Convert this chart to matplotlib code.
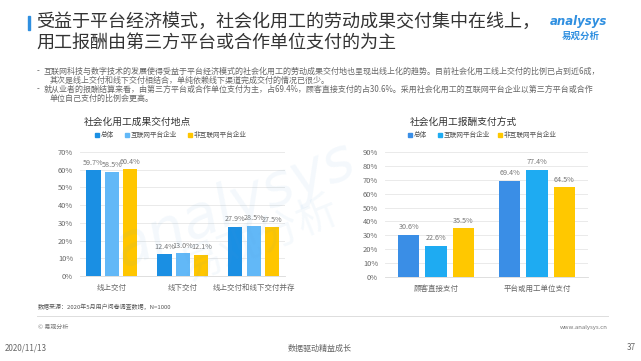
import matplotlib.pyplot as plt
import numpy as np
from matplotlib.patches import Rectangle

plt.rcParams['font.family'] = ['Noto Sans CJK SC', 'DejaVu Sans']

# 数据
series = ["总体", "互联网平台企业", "非互联网平台企业"]

cats_left = ["线上交付", "线下交付", "线上交付和线下交付并存"]
total_left = [59.7, 12.4, 27.9]
internet_left = [58.5, 13.0, 28.5]
non_internet_left = [60.4, 12.1, 27.5]
ticks_left = [0, 10, 20, 30, 40, 50, 60, 70]

cats_right = ["顾客直接支付", "平台或用工单位支付"]
total_right = [30.6, 69.4]
internet_right = [22.6, 77.4]
non_internet_right = [35.5, 64.5]
ticks_right = [0, 10, 20, 30, 40, 50, 60, 70, 80, 90]

colors_left = ["#1a8fe3", "#62b8f7", "#ffc600"]
colors_right = ["#3a8ee6", "#1eabf2", "#ffc800"]

W, H = 641, 361
fig = plt.figure(figsize=(W / 100, H / 100), dpi=100)


def fx(px):
    return px / W


def fy(py):
    return 1 - py / H


# 标题
fig.patches.append(Rectangle((fx(28), fy(30)), fx(2.5), 14 / H, transform=fig.transFigure,
                             color="#2f8fe0"))
fig.text(fx(36), fy(22), "受益于平台经济模式，社会化用工的劳动成果交付集中在线上，",
         fontsize=13, color="#333333", va="center", ha="left")
fig.text(fx(36), fy(44), "用工报酬由第三方平台或合作单位支付的为主",
         fontsize=13, color="#333333", va="center", ha="left")

# logo
fig.text(fx(578), fy(21), "analysys", fontsize=8.5, color="#2f8fe0", style="italic",
         fontweight="bold", ha="center", va="center", family="DejaVu Sans")
fig.text(fx(581), fy(36), "易观分析", fontsize=6.8, color="#2f8fe0", fontweight="bold",
         ha="center", va="center")

# 说明文字
bullets = [
    (37, 71, "-"),
    (44, 71, "互联网科技与数字技术的发展使得受益于平台经济模式的社会化用工的劳动成果交付地也呈现出线上化的趋势。目前社会化用工线上交付的比例已占到近6成，"),
    (50, 80, "其次是线上交付和线下交付相结合，单纯依赖线下渠道完成交付的情况已很少。"),
    (37, 89, "-"),
    (44, 89, "就从业者的报酬结算来看，由第三方平台或合作单位支付为主，占69.4%，顾客直接支付的占30.6%。采用社会化用工的互联网平台企业以第三方平台或合作"),
    (50, 98, "单位自己支付的比例会更高。"),
]
for x, y, t in bullets:
    fig.text(fx(x), fy(y), t, fontsize=5.75, color="#666666", va="center", ha="left")


def draw_chart(ax, cats, vals, colors, ticks, width, step, xlim, ylim):
    x = np.arange(len(cats))
    for i, v in enumerate(vals):
        pos = x + (i - 1) * step
        ax.bar(pos, v, width=width, color=colors[i], zorder=2)
        for p, val in zip(pos, v):
            ax.text(p, val + ylim * 0.025, f"{val}%", ha="center", va="bottom",
                    fontsize=5.2, color="#777777")
    ax.set_xlim(*xlim)
    ax.set_ylim(0, ylim)
    ax.set_yticks(ticks)
    ax.set_yticklabels([f"{t}%" for t in ticks])
    ax.set_xticks(x)
    ax.set_xticklabels(cats)
    ax.tick_params(axis="both", length=0, labelsize=5.4, colors="#666666")
    ax.tick_params(axis="y", pad=5)
    ax.tick_params(axis="x", pad=6)
    ax.grid(axis="y", color="#e6e6e6", linewidth=0.6, zorder=0)
    for s in ["top", "right", "left"]:
        ax.spines[s].set_visible(False)
    ax.spines["bottom"].set_color("#d9d9d9")
    ax.spines["bottom"].set_linewidth(0.6)


# 左图
ax1 = fig.add_axes([fx(80), fy(276), fx(285) - fx(80), 124 / H])
draw_chart(ax1, cats_left, [total_left, internet_left, non_internet_left], colors_left,
           ticks_left, 0.2, 0.26, (-0.45, 2.44), 70)
fig.text(fx(137), fy(122), "社会化用工成果交付地点", fontsize=7, color="#333333",
         ha="center", va="center")
for mx, name, c in zip([97, 127, 190], series, colors_left):
    fig.patches.append(Rectangle((fx(mx - 2), fy(137)), fx(4), 4 / H,
                                 transform=fig.transFigure, color=c))
    fig.text(fx(mx + 4), fy(135), name, fontsize=4.8, color="#555555", ha="left", va="center")

# 右图
ax2 = fig.add_axes([fx(385), fy(277), fx(588) - fx(385), 125 / H])
draw_chart(ax2, cats_right, [total_right, internet_right, non_internet_right], colors_right,
           ticks_right, 0.21, 0.27, (-0.505, 1.505), 90)
fig.text(fx(463), fy(122), "社会化用工报酬支付方式", fontsize=7, color="#333333",
         ha="center", va="center")
for mx, name, c in zip([410, 440, 500], series, colors_right):
    fig.patches.append(Rectangle((fx(mx - 2), fy(137)), fx(4), 4 / H,
                                 transform=fig.transFigure, color=c))
    fig.text(fx(mx + 4), fy(135), name, fontsize=4.8, color="#555555", ha="left", va="center")

# 水印
fig.text(fx(235), fy(205), "analysys", fontsize=42, color="#5aa0d8", alpha=0.07,
         rotation=22, ha="center", va="center", style="italic", family="DejaVu Sans")
fig.text(fx(260), fy(240), "易观分析", fontsize=30, color="#5aa0d8", alpha=0.06,
         rotation=22, ha="center", va="center")

# 页脚
fig.text(fx(38), fy(307), "数据来源：2020年5月用户问卷调查数据，N=1000", fontsize=4.3,
         color="#555555", ha="left", va="center")
fig.add_artist(plt.Line2D([fx(37), fx(608)], [fy(316), fy(316)], color="#dddddd",
                          linewidth=0.7, transform=fig.transFigure))
fig.text(fx(38), fy(327), "© 易观分析", fontsize=4.3, color="#777777", ha="left", va="center")
fig.text(fx(608), fy(327), "www.analysys.cn", fontsize=4.3, color="#777777", ha="right",
         va="center")
fig.text(fx(5), fy(348), "2020/11/13", fontsize=5.8, color="#666666", ha="left", va="center")
fig.text(fx(320), fy(348), "数据驱动精益成长", fontsize=5.8, color="#666666", ha="center",
         va="center")
fig.text(fx(636), fy(348), "37", fontsize=5.8, color="#666666", ha="right", va="center")

fig.savefig("out.png", dpi=100)
